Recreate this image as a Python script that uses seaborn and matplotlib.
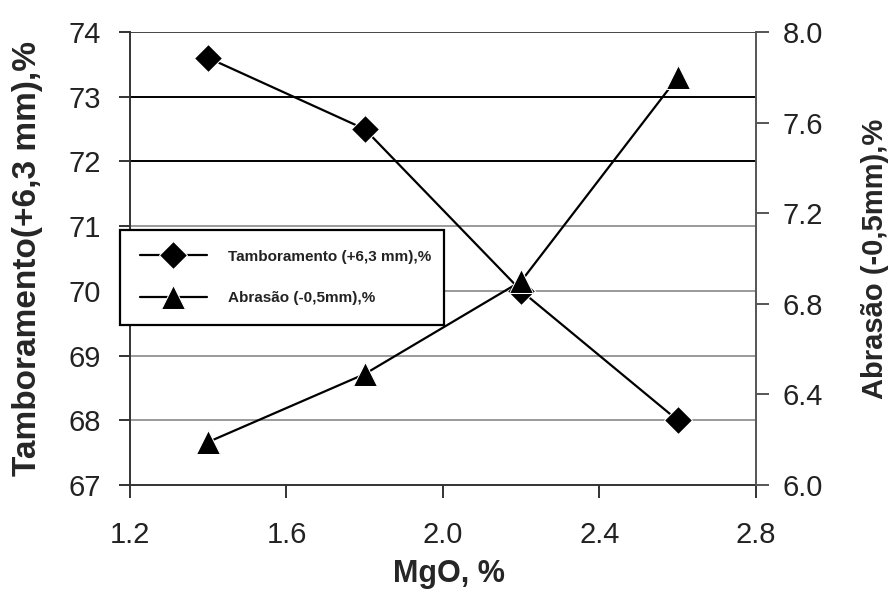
import numpy as np
import pandas as pd
import matplotlib
matplotlib.use("Agg")
import matplotlib.pyplot as plt
import seaborn as sns

# Data
mgo = [1.4, 1.8, 2.2, 2.6]
tamboramento = [73.6, 72.5, 70.0, 68.0]
abrasao = [6.19, 6.49, 6.90, 7.80]

left_ticks = [67, 68, 69, 70, 71, 72, 73, 74]
right_ticks = [6.0, 6.4, 6.8, 7.2, 7.6, 8.0]
x_ticks = [1.2, 1.6, 2.0, 2.4, 2.8]

df = pd.DataFrame({"MgO": mgo, "Tamb": tamboramento, "Abr": abrasao})

sns.set_style("white")
plt.rcParams["font.family"] = ["Liberation Sans", "DejaVu Sans"]

fig = plt.figure(figsize=(8.92, 5.92), dpi=100)
ax = fig.add_axes([0.1457, 0.1807, 0.7018, 0.7652])
ax2 = ax.twinx()

# Horizontal grid lines on the left scale (upper ones darker, as in the picture)
for v in left_ticks[1:-1]:
    c = "black" if v >= 72 else "#9a9a9a"
    ax.axhline(v, color=c, lw=1.4, zorder=0)
ax.axhline(74, color="#444444", lw=1.4, zorder=0)

sns.lineplot(data=df, x="MgO", y="Tamb", ax=ax, color="black", marker="D",
             markersize=14, lw=1.6, label="Tamboramento (+6,3 mm),%", legend=False)
sns.lineplot(data=df, x="MgO", y="Abr", ax=ax2, color="black", marker="^",
             markersize=17, lw=1.6, label="Abrasão (-0,5mm),%", legend=False)

ax.set_xlim(1.2, 2.8)
ax.set_ylim(67, 74)
ax2.set_ylim(6.0, 8.0)
ax.set_xticks(x_ticks)
ax.set_xticklabels([f"{v:.1f}" for v in x_ticks])
ax.set_yticks(left_ticks)
ax2.set_yticks(right_ticks)
ax2.set_yticklabels([f"{v:.1f}" for v in right_ticks])

for a in (ax, ax2):
    for s in a.spines.values():
        s.set_visible(False)
ax.spines["left"].set_visible(True)
ax.spines["left"].set_color("#333333")
ax.spines["bottom"].set_visible(True)
ax.spines["bottom"].set_color("#333333")
ax2.spines["right"].set_visible(True)
ax2.spines["right"].set_color("#555555")
for s in ("left", "bottom", "right"):
    ax.spines[s].set_linewidth(1.4)
    ax2.spines[s].set_linewidth(1.4)

ax.tick_params(axis="x", direction="out", length=9, width=1.4, color="#333333",
               labelsize=21, labelcolor="#222222", pad=17, bottom=True)
ax.tick_params(axis="y", direction="out", length=8, width=1.4, color="#333333",
               labelsize=21, labelcolor="#222222", pad=13, left=True)
ax2.tick_params(axis="y", direction="out", length=9, width=1.4, color="#555555",
                labelsize=21, labelcolor="#222222", pad=10, right=True)

ax.set_xlabel("MgO, %", fontsize=22, fontweight="bold")
ax.set_ylabel("Tamboramento(+6,3 mm),%", fontsize=24, fontweight="bold")
ax2.set_ylabel("Abrasão (-0,5mm),%", fontsize=21, fontweight="bold")
ax.xaxis.set_label_coords(0.51, -0.196)
ax.xaxis.label.set_va("center")
ax.yaxis.set_label_coords(-0.163, 0.5)
ax.yaxis.label.set_va("center")
ax2.yaxis.set_label_coords(1.19, 0.5)
ax2.yaxis.label.set_va("center")

h1, l1 = ax.get_legend_handles_labels()
h2, l2 = ax2.get_legend_handles_labels()
leg = ax2.legend(h1 + h2, l1 + l2, loc="center left",
                 bbox_to_anchor=(-0.016, 0.353, 0.518, 0.21), mode="expand",
                 prop={"weight": "bold", "size": 11},
                 handlelength=4.4, handletextpad=1.4, borderpad=1.3, labelspacing=1.8,
                 frameon=True, fancybox=False, framealpha=1, edgecolor="black",
                 borderaxespad=0)
leg.get_frame().set_linewidth(1.6)
for t in leg.get_texts():
    t.set_color("#222222")

fig.savefig("out.png", dpi=100)
